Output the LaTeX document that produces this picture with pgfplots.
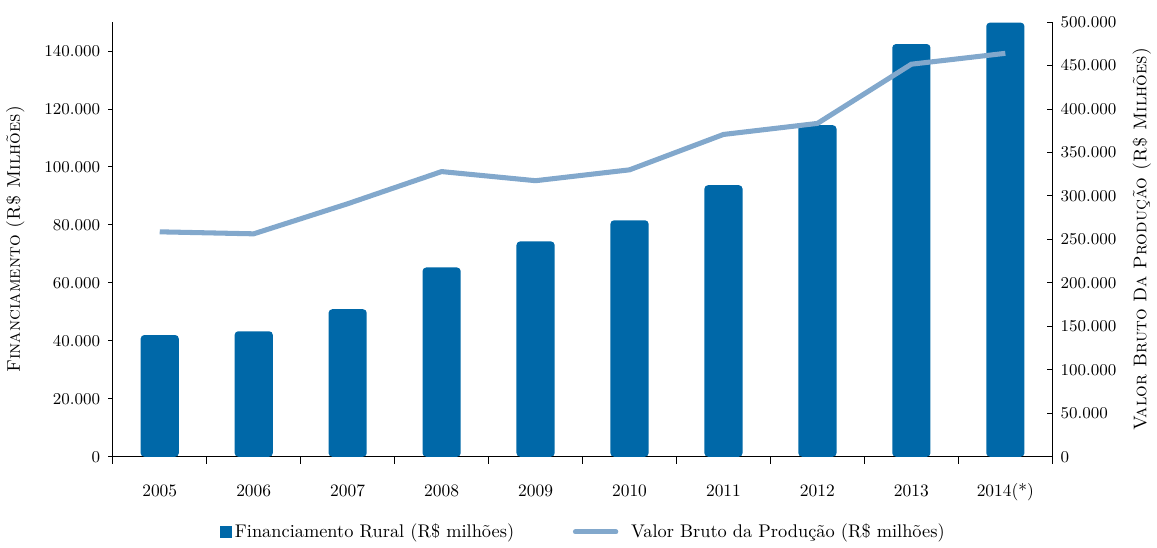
\documentclass[border=0pt]{standalone}
\usepackage{pgfplots}
\pgfplotsset{compat=1.18}
\definecolor{barblue}{RGB}{0,104,168}
\definecolor{lineblue}{RGB}{130,168,204}
\pgfplotstableread{
x fin vbp
0 42000 258700
1 43300 256400
2 50900 291000
3 65300 328000
4 74300 317500
5 81600 330000
6 93700 370700
7 114400 383400
8 142400 451500
9 149800 464000
}\datatab
\begin{document}
\begin{tikzpicture}[font=\fontsize{9.5}{11}\selectfont]
\pgfplotsset{
  base/.style={
    width=512pt, height=236.9pt, scale only axis,
    xmin=-0.5, xmax=9.5, ymin=0,
    /pgf/number format/.cd, fixed, 1000 sep={.},
    /pgfplots/.cd,
    scaled y ticks=false,
    tick style={black, line width=0.5pt},
    axis line style={black, line width=0.6pt},
    tick label style={font=\fontsize{9.5}{11}\selectfont},
    label style={font=\fontsize{10}{12}\selectfont},
  }
}
\begin{axis}[base, name=ax1,
  ymax=150000,
  axis y line*=left, axis x line*=bottom,
  ytick={0,20000,...,140000},
  y tick label style={xshift=-1pt},
  xtick={0,...,9},
  xticklabels={2005,2006,2007,2008,2009,2010,2011,2012,2013,2014(*)},
  major x tick style={draw=none},
  minor xtick={-0.5,0.5,...,9.5},
  minor x tick style={black},
  minor tick length=3.9pt,
  xtick align=outside,
  ytick align=outside,
  major tick length=2.4pt,
  x tick label style={anchor=base, yshift=-19pt},
  ylabel={\textsc{Financiamento (R\$ Milhões)}},
  ylabel style={yshift=4pt},
]
\addplot[ybar, bar width=20.8pt, fill=barblue, draw=none, rounded corners=2pt] table[x=x,y=fin]{\datatab};
\end{axis}
\begin{axis}[base,
  ymax=500000,
  axis y line*=right, axis x line=none,
  ytick={0,50000,...,500000},
  ytick align=inside,
  major tick length=3pt,
  y tick label style={xshift=1pt},
  ylabel={\textsc{Valor Bruto Da Produção (R\$ Milhões)}},
  ylabel style={yshift=-2pt},
  legend style={at={(0.502,-0.173)}, anchor=center, draw=none, legend columns=2,
    font=\fontsize{10}{12}\selectfont,
    /tikz/every even column/.append style={column sep=30pt}},
  legend cell align=left,
]
\addlegendimage{legend image code/.code={\fill[barblue] (2pt,-2.8pt) rectangle (7.5pt,2.8pt);}}
\addlegendentry{Financiamento Rural (R\$ milhões)}
\addplot[lineblue, line width=2.75pt, legend image code/.code={\draw[lineblue, line width=2.75pt, line cap=round] (-6pt,0pt) -- (16pt,0pt); \path (21pt,0pt);}] table[x=x,y=vbp]{\datatab};
\addlegendentry{Valor Bruto da Produção (R\$ milhões)}
\end{axis}
\path (ax1.north) ++(0,12pt);
\end{tikzpicture}
\end{document}
